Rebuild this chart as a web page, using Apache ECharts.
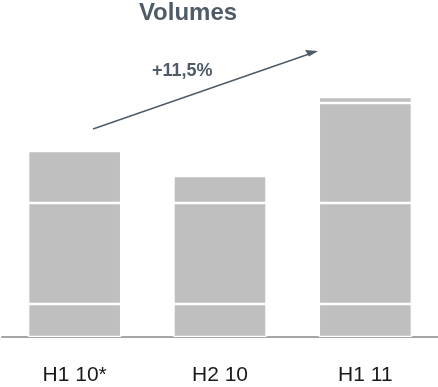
<!DOCTYPE html>
<html>
<head>
<meta charset="utf-8">
<script src="https://cdn.jsdelivr.net/npm/echarts@6/dist/echarts.min.js"></script>
<style>
  html, body { margin: 0; padding: 0; background: #fff; }
  #chart { width: 438px; height: 387px; }
</style>
</head>
<body>
<div id="chart"></div>
<script>
// Half-year periods on the x axis
const periods = ['H1 10*', 'H2 10', 'H1 11'];

// Stacked volume components, bottom to top
const segmentBase  = [33, 33, 33];
const segmentCore  = [101, 101, 101];
const segmentUpper = [52, 27, 100];
const segmentTop   = [0, 0, 6];

const growthLabel = '+11,5%';

const barColor = '#bfbfbf';
const inkColor = '#4f5b66';
const sansFont = '"Liberation Sans", Arial, sans-serif';

const chart = echarts.init(document.getElementById('chart'));

function stackSeries(name, data) {
  return {
    name: name,
    type: 'bar',
    stack: 'volumes',
    barWidth: 93,
    data: data,
    itemStyle: { color: barColor, borderColor: '#ffffff', borderWidth: 1.2 },
    emphasis: { disabled: true },
    silent: true
  };
}

chart.setOption({
  animation: false,
  title: {
    text: 'Volumes',
    left: 188,
    top: 1,
    padding: 0,
    textAlign: 'center',
    textStyle: { fontFamily: sansFont, fontSize: 24, fontWeight: 'bold', color: inkColor }
  },
  grid: { left: 2, right: 0, top: 37, bottom: 50 },
  xAxis: {
    type: 'category',
    data: periods,
    axisLine: { show: true, lineStyle: { color: '#a6a6a6', width: 2 } },
    axisTick: { show: false },
    axisLabel: {
      margin: 28,
      fontFamily: sansFont,
      fontSize: 21,
      color: '#1a1a1a'
    }
  },
  yAxis: {
    type: 'value',
    min: 0,
    max: 300,
    show: false
  },
  series: [
    stackSeries('base', segmentBase),
    stackSeries('core', segmentCore),
    stackSeries('upper', segmentUpper),
    stackSeries('top', segmentTop)
  ],
  graphic: [
    {
      type: 'line',
      shape: { x1: 93, y1: 129, x2: 312, y2: 53 },
      style: { stroke: inkColor, lineWidth: 1.5 },
      silent: true
    },
    {
      type: 'polygon',
      shape: { points: [[318, 51], [305, 50], [309, 56.5]] },
      style: { fill: inkColor },
      silent: true
    },
    {
      type: 'text',
      left: 152,
      top: 62,
      style: {
        text: growthLabel,
        fontFamily: sansFont,
        fontSize: 18,
        fontWeight: 'bold',
        fill: inkColor
      },
      silent: true
    }
  ]
});
</script>
</body>
</html>
